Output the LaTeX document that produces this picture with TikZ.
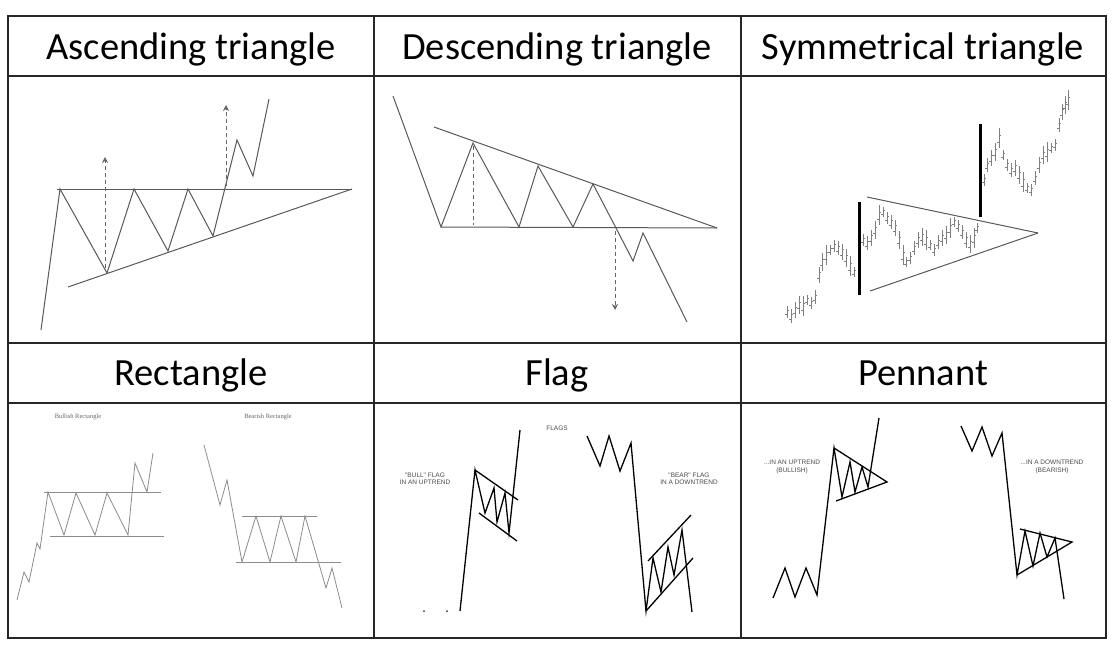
\documentclass[tikz,border=0pt]{standalone}
\usepackage{fontspec}
\setmainfont{Carlito}
\newfontfamily\notefont{Liberation Sans}
\newfontfamily\noteserif{Liberation Serif}
\usetikzlibrary{arrows.meta}
\tikzset{
	frame/.style={draw=black!85, line width=1.2pt},
	title/.style={font=\fontsize{38.5}{40}\selectfont, text=black, inner sep=0pt, anchor=base},
	price/.style={draw=black!65, line width=1pt, line join=miter},
	thinprice/.style={draw=black!45, line width=0.8pt, line join=miter},
	boldprice/.style={draw=black, line width=1.3pt, line join=miter},
	guide/.style={draw=black!60, dash pattern=on 4pt off 3pt, line width=0.9pt},
	dirguide/.style={guide, -{Stealth[width=6pt,length=6pt]}},
	bar/.style={draw=black!50, line width=0.6pt},
	breakbar/.style={draw=black, line width=3pt},
	note/.style={font=\notefont\fontsize{6.5}{7.5}\selectfont, text=black!70, align=center, inner sep=0pt},
	tinynote/.style={font=\noteserif\fontsize{6.5}{7}\selectfont, text=black!60, inner sep=0pt}
}

\begin{document}
\begin{tikzpicture}[x=1pt,y=-1pt]
	\useasboundingbox (0,0) rectangle (1115,650);
	\fill[white] (0,0) rectangle (1115,650);

	% table
	\draw[frame] (8,16) rectangle (1106,638);
	\draw[frame] (8,76) -- (1106,76) (8,343) -- (1106,343) (8,403) -- (1106,403);
	\draw[frame] (374,16) -- (374,638) (741,16) -- (741,638);

	\node[title] (tasc) at (191,60) {Ascending triangle};
	\node[title] (tdesc) at (557,60) {Descending triangle};
	\node[title] (tsym) at (923,60) {Symmetrical triangle};
	\node[title] (trect) at (191,385) {Rectangle};
	\node[title] (tflag) at (557,385) {Flag};
	\node[title] (tpen) at (923,385) {Pennant};

	% ascending triangle
	\draw[price] (57,189) -- (352,189);
	\draw[price] (68,287) -- (352,189);
	\draw[price] (41,330) -- (60,189) -- (107,273) -- (134,189) -- (168,251) -- (188,189)
		-- (213,236) -- (237,140) -- (253,176) -- (269,99);
	\draw[dirguide] (105,268) -- (105,157);
	\draw[dirguide] (226,186) -- (226,105);

	% descending triangle
	\draw[price] (434,127) -- (717,228);
	\draw[price] (441,227) -- (717,228);
	\draw[price] (393,96) -- (441,227) -- (473,143) -- (519,227) -- (538,166) -- (573,227)
		-- (593,184) -- (616,228) -- (633,261) -- (643,233) -- (687,322);
	\draw[guide] (473,146) -- (473,225);
	\draw[dirguide] (615,231) -- (615,310);

	% symmetrical triangle
	\foreach \x/\y [count=\i] in {787/312,791/316,795/310,799/305,803/306,807/300,811/303,815/297,
		819/275,822/262,826/255,830/250,834/246,838/248,842/252,846/258,850/266,854/272,
		863/240,867/243,871/238,875/230,879/215,883/212,887/218,891/222,895/228,899/240,
		903/255,906/262,910/258,914/248,918/240,922/237,926/240,930/245,934/250,938/242,
		942/238,946/235,950/228,954/222,958/226,962/232,966/240,970/244,974/238,977/228,
		984/180,987/165,991/158,995/152,999/138,1003/155,1007/165,1011/170,1015/168,
		1019/175,1023/182,1027/188,1031/190,1035/178,1039/165,1043/155,1047/152,1051/148,
		1055/145,1059/125,1062/112,1065/105,1068/100}{
		\pgfmathsetmacro\h{5+mod(\i*7,6)}
		\draw[bar] (\x,\y-\h) -- (\x,\y+\h)
			(\x-2,\y+0.4*\h) -- (\x,\y+0.4*\h) (\x,\y-0.3*\h) -- (\x+2,\y-0.3*\h);
	}
	\draw[price] (867,197) -- (1038,233);
	\draw[price] (870,291) -- (1038,233);
	\draw[breakbar] (859,202) -- (859,295);
	\draw[breakbar] (980,124) -- (980,217);

	% rectangle
	\node[tinynote] (bullrect) at (78,417) {Bullish Rectangle};
	\node[tinynote] (bearrect) at (268,417) {Bearish Rectangle};
	\draw[thinprice] (44,492) -- (161,492) (50,536) -- (164,536);
	\draw[thinprice] (17,600) -- (24,572) -- (29,582) -- (37,543) -- (40,549) -- (48,492)
		-- (64,535) -- (76,493) -- (95,535) -- (107,493) -- (128,535) -- (135,463)
		-- (147,492) -- (153,453);
	\draw[thinprice] (242,516) -- (317,516) (236,562) -- (341,562);
	\draw[thinprice] (204,445) -- (220,505) -- (227,480) -- (242,562) -- (256,516) -- (270,562)
		-- (281,516) -- (296,562) -- (305,516) -- (326,588) -- (332,568) -- (342,608);

	% flag
	\node[note] (flags) at (557,428) {FLAGS};
	\node[note] (bullflag) at (425,479) {"BULL" FLAG\\IN AN UPTREND};
	\node[note] (bearflag) at (689,479) {"BEAR" FLAG\\IN A DOWNTREND};
	\fill[black!80] (424,611) circle (1pt) (447,611) circle (1pt);
	\draw[boldprice] (460,611) -- (475,470) -- (485,513) -- (494,488) -- (497,522) -- (505,493)
		-- (509,533) -- (520,430);
	\draw[boldprice] (475,470) -- (518,500) (479,513) -- (517,541);
	\draw[boldprice] (587,436) -- (600,466) -- (609,436) -- (620,471) -- (631,443) -- (646,611)
		-- (653,558) -- (661,592) -- (668,547) -- (674,575) -- (682,530) -- (692,612);
	\draw[boldprice] (646,611) -- (693,558) (648,561) -- (691,515);

	% pennant
	\node[note] (bullpen) at (792,467) {...IN AN UPTREND\\(BULLISH)};
	\node[note] (bearpen) at (1052,467) {...IN A DOWNTREND\\(BEARISH)};
	\draw[boldprice] (773,598) -- (785,568) -- (795,597) -- (806,568) -- (817,595) -- (834,448)
		-- (842,497) -- (850,462) -- (855,492) -- (862,467) -- (868,487) -- (879,418);
	\draw[boldprice] (834,448) -- (887,482) -- (836,501);
	\draw[boldprice] (961,426) -- (972,451) -- (982,427) -- (992,456) -- (1002,433) -- (1017,575)
		-- (1025,531) -- (1033,566) -- (1040,533) -- (1047,557) -- (1055,538) -- (1064,599);
	\draw[boldprice] (1020,529) -- (1072,542) -- (1017,575);
\end{tikzpicture}
\end{document}
